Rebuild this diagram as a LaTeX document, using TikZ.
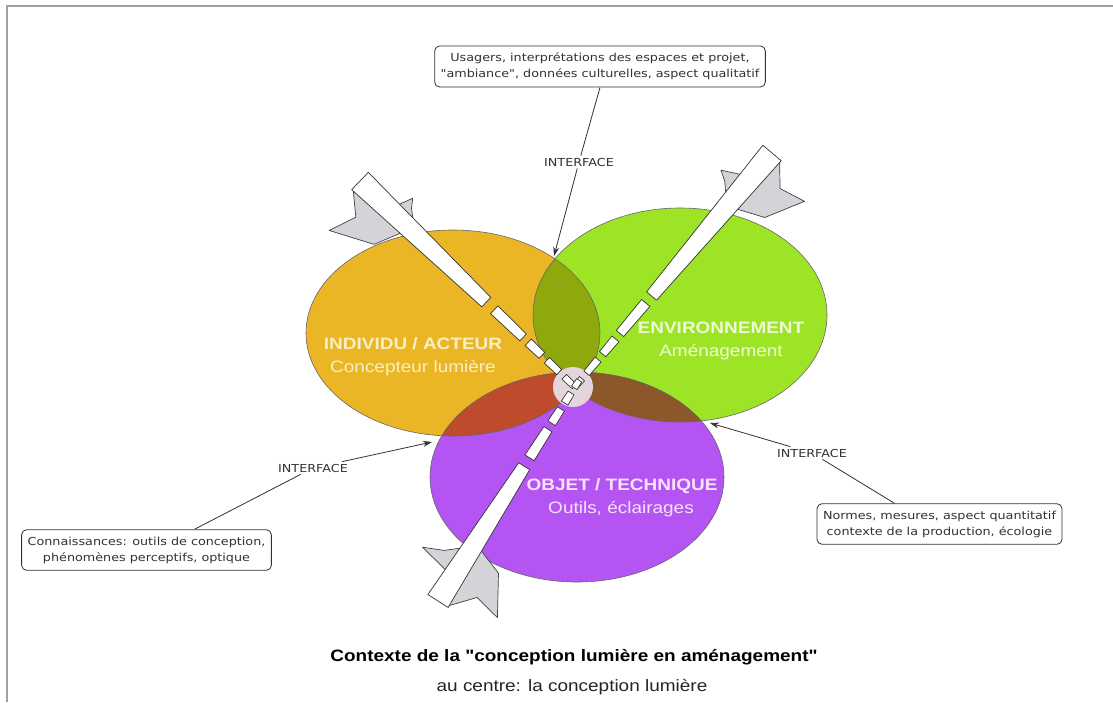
\documentclass[tikz,border=0pt]{standalone}
\usepackage{fontspec}
\setmainfont{Liberation Sans}
\newfontfamily\labfont[FakeStretch=1.15]{Liberation Sans}
\newfontfamily\notefont[FakeStretch=1.16]{DejaVu Sans}
\usetikzlibrary{arrows.meta,calc}

\definecolor{cYel}{RGB}{234,182,38}
\definecolor{cGrn}{RGB}{158,228,38}
\definecolor{cPur}{RGB}{180,84,242}
\definecolor{cOli}{RGB}{143,168,12}
\definecolor{cRed}{RGB}{190,76,44}
\definecolor{cBrn}{RGB}{140,88,42}
\definecolor{cMid}{RGB}{228,212,220}
\definecolor{cFin}{RGB}{212,212,216}
\definecolor{cFrame}{RGB}{160,160,160}
\definecolor{cInk}{RGB}{50,50,50}
\definecolor{cTxI}{RGB}{250,238,196}
\definecolor{cTxE}{RGB}{238,250,214}
\definecolor{cTxO}{RGB}{248,226,252}

% one tapered piece of an arrow shaft: from u=#1 (half width #3) to u=#2 (half width #4)
\newcommand\barpiece[4]{\filldraw[bar] (#1,-#3) -- (#2,-#4) -- (#2,#4) -- (#1,#3) -- cycle;}

\begin{document}
\begin{tikzpicture}[x=1pt,y=-1pt,
  note/.style={draw=cInk, line width=0.8pt, rounded corners=5pt, fill=white,
    align=center, font=\notefont\fontsize{11}{16}\selectfont, text=cInk,
    inner xsep=6pt, inner ysep=7pt},
  iface/.style={font=\notefont\fontsize{11}{13}\selectfont, text=cInk, inner sep=2pt},
  callout/.style={draw=cInk, line width=0.8pt},
  pointer/.style={callout, -{Stealth[length=9pt,width=6pt]}},
  bar/.style={draw=black!80, fill=white, line width=0.7pt, line join=round},
  fin/.style={draw=black!75, fill=cFin, line width=0.7pt, line join=round},
  rim/.style={draw=black!60, line width=0.6pt},
  bigtitle/.style={font=\labfont\bfseries\fontsize{16.5}{20}\selectfont},
  subtitle/.style={font=\labfont\fontsize{16.5}{20}\selectfont},
]
\useasboundingbox (0,0) rectangle (1113,702);
\fill[white] (0,0) rectangle (1113,702);
\draw[cFrame, line width=2pt] (7,702) -- (7,6) -- (1113,6);

% the three domains
\coordinate (cI) at (453,333);
\coordinate (cE) at (680,315);
\coordinate (cO) at (577,477);
\fill[cYel] (cI) ellipse [x radius=147pt, y radius=103pt];
\fill[cGrn] (cE) ellipse [x radius=147pt, y radius=107pt];
\fill[cPur] (cO) ellipse [x radius=147pt, y radius=105pt];
% overlaps
\begin{scope}
  \clip (cI) ellipse [x radius=147pt, y radius=103pt];
  \fill[cOli] (cE) ellipse [x radius=147pt, y radius=107pt];
  \fill[cRed] (cO) ellipse [x radius=147pt, y radius=105pt];
\end{scope}
\begin{scope}
  \clip (cE) ellipse [x radius=147pt, y radius=107pt];
  \fill[cBrn] (cO) ellipse [x radius=147pt, y radius=105pt];
\end{scope}
\draw[rim] (cI) ellipse [x radius=147pt, y radius=103pt];
\draw[rim] (cE) ellipse [x radius=147pt, y radius=107pt];
\draw[rim] (cO) ellipse [x radius=147pt, y radius=105pt];
% the shared centre
\fill[cMid] (573,387) circle [radius=20pt];

% arrow from the upper left
\begin{scope}[shift={(360,181)}, rotate=-43.8]
  \filldraw[fin] (0,10) -- (22,29) -- (12,57) -- (54,36) -- (66,8) -- cycle;
  \filldraw[fin] (44,-9) -- (50,-24) -- (56,-16) -- (66,-8) -- cycle;
  \barpiece{0}{175}{12}{6.5}
  \barpiece{186}{226}{5.4}{4.8}
  \barpiece{233}{252}{4.5}{4.1}
  \barpiece{259}{276}{3.9}{3.5}
  \barpiece{283}{297}{3.3}{3.0}
\end{scope}
% arrow from the upper right
\begin{scope}[shift={(772,153)}, rotate=-130.1, yscale=-1]
  \filldraw[fin] (0,10) -- (22,29) -- (16,56) -- (54,36) -- (66,8) -- cycle;
  \filldraw[fin] (36,-9) -- (46,-28) -- (52,-18) -- (62,-8) -- cycle;
  \barpiece{0}{187}{12}{6.5}
  \barpiece{196}{236}{5.4}{4.8}
  \barpiece{243}{263}{4.5}{4.1}
  \barpiece{270}{288}{3.9}{3.5}
  \barpiece{295}{306}{3.3}{3.0}
\end{scope}
% arrow from below
\begin{scope}[shift={(438,601)}, rotate=57.4]
  \filldraw[fin] (0,10) -- (24,31) -- (18,59) -- (56,36) -- (66,8) -- cycle;
  \filldraw[fin] (30,-9) -- (37,-42) -- (46,-22) -- (58,-8) -- cycle;
  \barpiece{0}{160}{12}{6.5}
  \barpiece{170}{204}{5.4}{4.8}
  \barpiece{211}{228}{4.5}{4.1}
  \barpiece{235}{247}{3.9}{3.5}
  \barpiece{253}{262}{3.3}{3.0}
\end{scope}

% domain labels
\node[bigtitle, text=cTxI] (tI1) at (413,344) {INDIVIDU / ACTEUR};
\node[subtitle, text=cTxI] (tI2) at (413,368) {Concepteur lumière};
\node[bigtitle, text=cTxE] (tE1) at (721,328) {ENVIRONNEMENT};
\node[subtitle, text=cTxE] (tE2) at (721,352) {Aménagement};
\node[bigtitle, text=cTxO] (tO1) at (622,486) {OBJET / TECHNIQUE};
\node[subtitle, text=cTxO] (tO2) at (621,509) {Outils, éclairages};

% notes
\node[note] (nT) at (600,66.5) {Usagers, interprétations des espaces et projet,\\"ambiance", données culturelles, aspect qualitatif};
\node[note] (nL) at (146.5,550) {Connaissances: outils de conception,\\phénomènes perceptifs, optique};
\node[note] (nR) at (939.5,524) {Normes, mesures, aspect quantitatif\\contexte de la production, écologie};

\node[iface] (iT) at (579,162) {INTERFACE};
\node[iface] (iL) at (313,468) {INTERFACE};
\node[iface] (iR) at (812,453) {INTERFACE};

\coordinate (pYG) at (554,256);
\coordinate (pYO) at (432,442);
\coordinate (pEO) at (710,423);

\draw[callout] (nT.south) -- (iT);
\draw[pointer] (iT) -- (pYG);
\draw[callout] ([xshift=48pt]nL.north) -- (iL);
\draw[pointer] (iL) -- (pYO);
\draw[callout] ([xshift=-45pt]nR.north) -- (iR);
\draw[pointer] (iR) -- (pEO);

% caption
\node[bigtitle, text=black] (cap1) at (574,657) {Contexte de la "conception lumière en aménagement"};
\node[subtitle, text=black!85] (cap2) at (572,687) {au centre: la conception lumière};
\end{tikzpicture}
\end{document}
